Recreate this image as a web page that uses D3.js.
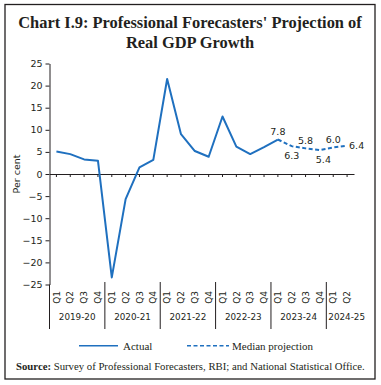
<!DOCTYPE html>
<html><head><meta charset="utf-8">
<script src="https://cdn.jsdelivr.net/npm/d3@7"></script>
<style>html,body{margin:0;padding:0;background:#fff;}svg{display:block;}</style>
</head><body>
<svg id="c" width="381" height="385"></svg>
<script>
const years = ["2019-20","2020-21","2021-22","2022-23","2023-24","2024-25"];
const quartersPerYear = [4,4,4,4,4,2];
const actual = [5.1,4.5,3.3,3.0,-23.4,-5.7,1.5,3.2,21.5,9.0,5.2,3.9,13.0,6.2,4.5,6.1,7.8];
const projection = [7.8,6.3,5.8,5.4,6.0,6.4];
const projectionStart = 16;
const projLabelPos = ["above","below","above","below","above","right"];
const yTicks = [-25,-20,-15,-10,-5,0,5,10,15,20,25];
const titleLines = ["Chart I.9: Professional Forecasters' Projection of","Real GDP Growth"];
const legendLabels = ["Actual","Median projection"];
const sourceBold = "Source:";
const sourceText = " Survey of Professional Forecasters, RBI; and National Statistical Office.";

const ink = "#231f20", blue = "#1f70bf";
const svg = d3.select("#c");

// categories
const cats = [];
years.forEach((y,i)=>{for(let q=1;q<=quartersPerYear[i];q++) cats.push({key:y+"Q"+q,q:"Q"+q,year:y});});

const x = d3.scaleBand().domain(cats.map(d=>d.key)).range([49.5,354]).padding(0);
const cx = k => x(k)+x.bandwidth()/2;
const y = d3.scaleLinear().domain([-25,25]).range([284.5,63.5]);

// frame
svg.append("rect").attr("x",5).attr("y",4.5).attr("width",370).attr("height",374.5)
  .attr("fill","none").attr("stroke",ink).attr("stroke-width",1.3);

// title
const title = svg.append("g").attr("font-family","'Liberation Serif',serif").attr("font-weight","bold").attr("fill",ink);
const t1 = title.append("text").attr("x",190).attr("y",27.5).attr("text-anchor","middle").attr("font-size",16).text(titleLines[0]);
let w = t1.node().getComputedTextLength();
const fs = 16*344/w;
t1.attr("font-size",fs);
title.append("text").attr("x",190).attr("y",48.3).attr("text-anchor","middle").attr("font-size",fs).text(titleLines[1]);

// y axis
const yAxis = svg.append("g").attr("transform","translate(49.5,0)")
  .call(d3.axisLeft(y).tickValues(yTicks).tickSize(4).tickSizeOuter(0).tickPadding(3));
yAxis.select(".domain").attr("stroke",ink);
yAxis.selectAll(".tick line").attr("stroke",ink);
yAxis.selectAll(".tick text").attr("font-family","'DejaVu Sans',sans-serif").attr("font-size",9.5).attr("fill",ink);
svg.append("line").attr("x1",49.5).attr("x2",49.5).attr("y1",y(-25)).attr("y2",329).attr("stroke",ink);

svg.append("text").attr("transform",`translate(20,${y(0)}) rotate(-90)`).attr("text-anchor","middle")
  .attr("font-family","'DejaVu Sans',sans-serif").attr("font-size",9.5).attr("fill",ink).text("Per cent");

// x axis at zero
const xAxis = svg.append("g").attr("transform",`translate(0,${y(0)})`)
  .call(d3.axisBottom(x).tickSize(3).tickSizeOuter(0).tickFormat(""));
xAxis.select(".domain").attr("stroke",ink);
xAxis.selectAll(".tick line").attr("stroke",ink);

// quarter labels
svg.append("g").selectAll("text").data(cats).join("text")
  .attr("transform",d=>`translate(${cx(d.key)},291) rotate(-90)`)
  .attr("text-anchor","end").attr("dy","0.35em")
  .attr("font-family","'DejaVu Sans',sans-serif").attr("font-size",9).attr("fill",ink)
  .text(d=>d.q);

// year groups
let idx = 0;
const groups = years.map((yr,i)=>{const g={year:yr,start:cats[idx].key,end:cats[idx+quartersPerYear[i]-1].key,i}; idx+=quartersPerYear[i]; return g;});
svg.append("g").selectAll("line").data(groups.slice(1)).join("line")
  .attr("x1",d=>x(d.start)).attr("x2",d=>x(d.start)).attr("y1",282).attr("y2",329)
  .attr("stroke",ink);
const yl = svg.append("g").selectAll("text").data(groups).join("text")
  .attr("y",320).attr("text-anchor","middle")
  .attr("font-family","'DejaVu Sans',sans-serif").attr("font-size",8.8).attr("fill",ink)
  .text(d=>d.year);
yl.each(function(d){
  const tw=this.getComputedTextLength();
  const left=x(d.start), right=x(d.end)+x.bandwidth();
  let c=(left+right)/2;
  if(tw+4>right-left) c=left+2+tw/2;
  d3.select(this).attr("x",c);
});

// lines
const line = d3.line().x(d=>cx(d.k)).y(d=>y(d.v));
svg.append("path").datum(actual.map((v,i)=>({k:cats[i].key,v})))
  .attr("d",line).attr("fill","none").attr("stroke",blue).attr("stroke-width",2).attr("stroke-linejoin","round");
const projPts = projection.map((v,i)=>({k:cats[projectionStart+i].key,v,pos:projLabelPos[i]}));
svg.append("path").datum(projPts)
  .attr("d",line).attr("fill","none").attr("stroke",blue).attr("stroke-width",2).attr("stroke-dasharray","4,2.5");

// projection labels
svg.append("g").selectAll("text").data(projPts).join("text")
  .attr("x",d=>d.pos==="right"?cx(d.k)+2:cx(d.k)+(d.pos==="below"&&d.v<5.6?4:0))
  .attr("y",d=>d.pos==="above"?y(d.v)-4.5:d.pos==="below"?y(d.v)+12.5:y(d.v)+3.5)
  .attr("text-anchor",d=>d.pos==="right"?"start":"middle")
  .attr("font-family","'DejaVu Sans',sans-serif").attr("font-size",9.5).attr("fill",ink)
  .text(d=>d.v.toFixed(1));

// legend
const lg = svg.append("g");
lg.append("line").attr("x1",79).attr("x2",118).attr("y1",345.7).attr("y2",345.7).attr("stroke",blue).attr("stroke-width",1.5);
lg.append("line").attr("x1",187).attr("x2",229).attr("y1",345.7).attr("y2",345.7).attr("stroke",blue).attr("stroke-width",1.5).attr("stroke-dasharray","4,2.5");
lg.selectAll("text").data(legendLabels).join("text")
  .attr("x",(d,i)=>i===0?123:232).attr("y",349.5)
  .attr("font-family","'Liberation Serif',serif").attr("font-size",11).attr("fill",ink).text(d=>d);

// source
const src = svg.append("text").attr("x",16).attr("y",370).attr("font-family","'Liberation Serif',serif").attr("font-size",10).attr("fill",ink);
src.append("tspan").attr("font-weight","bold").text(sourceBold);
src.append("tspan").text(sourceText);
const sw = src.node().getComputedTextLength();
src.attr("font-size",10*349/sw);
</script>
</body></html>
